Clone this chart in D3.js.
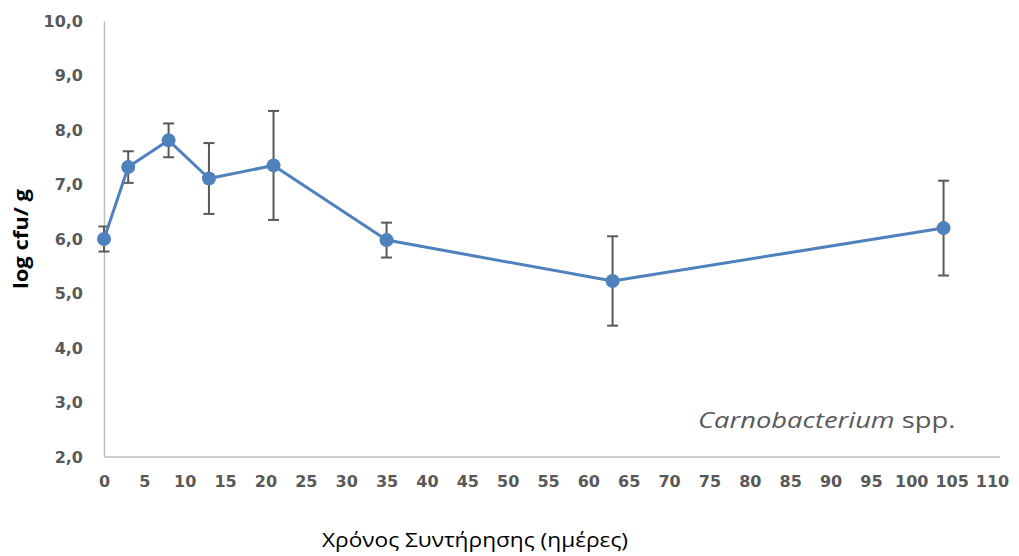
<!DOCTYPE html>
<html>
<head>
<meta charset="utf-8">
<script src="https://cdn.jsdelivr.net/npm/d3@7"></script>
<style>
  body { margin: 0; background: #fff; }
</style>
</head>
<body>
<div id="chart"></div>
<script>
const days = [0, 3, 8, 13, 21, 35, 63, 104];
const logCfu = [6.0, 7.32, 7.81, 7.11, 7.35, 5.98, 5.23, 6.2];
const errs = [0.23, 0.29, 0.31, 0.65, 1.0, 0.32, 0.82, 0.87];
const xTicks = d3.range(0, 111, 5);
const yTicks = d3.range(2, 10.01, 1);

const W = 1019, H = 556;
const MARGIN = { LEFT: 104, RIGHT: 19, TOP: 21, BOTTOM: 99 };

const svg = d3.select("#chart").append("svg")
  .attr("width", W).attr("height", H);

const x = d3.scaleLinear().domain([0, 110]).range([MARGIN.LEFT, MARGIN.LEFT + 888]);
const y = d3.scaleLinear().domain([2, 10]).range([H - MARGIN.BOTTOM, MARGIN.TOP]);

const fmt = d => d3.format(".1f")(d).replace(".", ",");

// axes, no gridlines
const xAxis = svg.append("g")
  .attr("transform", `translate(0,${y(2)})`)
  .call(d3.axisBottom(x).tickValues(xTicks).tickSize(0).tickPadding(19));
xAxis.select(".domain").attr("stroke", "#bfbfbf").attr("stroke-width", 1.5)
  .attr("d", `M${x(0)},0H${W - MARGIN.RIGHT}`);

const yAxis = svg.append("g")
  .attr("transform", `translate(${x(0)},0)`)
  .call(d3.axisLeft(y).tickValues(yTicks).tickFormat(fmt).tickSize(0).tickPadding(21));
yAxis.select(".domain").attr("stroke", "#bfbfbf").attr("stroke-width", 1.5);

svg.selectAll(".tick text")
  .attr("fill", "#595959")
  .style("font-family", "DejaVu Sans, sans-serif")
  .style("font-size", "16px")
  .style("font-weight", "bold");

// error bars
const eb = svg.append("g").attr("stroke", "#595959").attr("stroke-width", 2);
days.forEach((d, i) => {
  const cx = x(d), top = y(logCfu[i] + errs[i]), bot = y(logCfu[i] - errs[i]);
  eb.append("line").attr("x1", cx).attr("x2", cx).attr("y1", top).attr("y2", bot);
  eb.append("line").attr("x1", cx - 5.5).attr("x2", cx + 5.5).attr("y1", top).attr("y2", top);
  eb.append("line").attr("x1", cx - 5.5).attr("x2", cx + 5.5).attr("y1", bot).attr("y2", bot);
});

// line + markers
const line = d3.line().x((d, i) => x(days[i])).y(d => y(d));
svg.append("path").datum(logCfu)
  .attr("fill", "none").attr("stroke", "#4f81bd").attr("stroke-width", 3)
  .attr("stroke-linejoin", "round")
  .attr("d", line);

svg.selectAll(".pt").data(logCfu).enter().append("circle")
  .attr("class", "pt")
  .attr("cx", (d, i) => x(days[i])).attr("cy", d => y(d))
  .attr("r", 7).attr("fill", "#4f81bd");

// titles (the original text is a bit stretched sideways)
svg.append("text")
  .attr("x", 322).attr("y", 547)
  .attr("textLength", 306).attr("lengthAdjust", "spacingAndGlyphs")
  .style("font-family", "Open Sans, sans-serif")
  .style("font-size", "19.5px")
  .attr("fill", "#000")
  .text("Χρόνος Συντήρησης (ημέρες)");

svg.append("text")
  .attr("transform", "translate(28,289) rotate(-90)")
  .attr("textLength", 100).attr("lengthAdjust", "spacingAndGlyphs")
  .style("font-family", "Open Sans, sans-serif")
  .style("font-size", "19px")
  .style("font-weight", "bold")
  .attr("fill", "#000")
  .text("log cfu/ g");

const lab = svg.append("text")
  .attr("transform", "translate(698,428) scale(1.3,1)")
  .style("font-family", "Open Sans, sans-serif")
  .style("font-size", "21px")
  .attr("fill", "#595959");
lab.append("tspan").style("font-style", "italic").text("Carnobacterium");
lab.append("tspan").text(" spp.");
</script>
</body>
</html>
